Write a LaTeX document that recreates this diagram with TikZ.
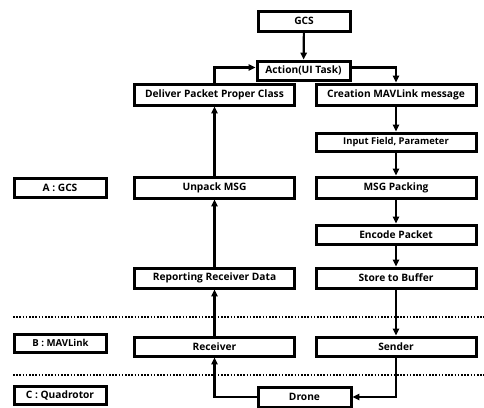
\documentclass[tikz,border=0pt]{standalone}
\usepackage{fontspec}
\setmainfont{Open Sans}
\usepackage{tikz}
\usetikzlibrary{arrows.meta,positioning}
\tikzset{
  bx/.style={draw=black,line width=3pt,inner sep=0pt,minimum height=19pt,font=\bfseries\fontsize{10.2}{12}\selectfont},
  wide/.style={bx,minimum width=160pt},
  tag/.style={bx,minimum width=92pt},
  ar/.style={-{Triangle[length=2.4mm,width=2.2mm]},line width=2.2pt},
  sep/.style={line width=2.4pt,dash pattern=on 1.6pt off 1.6pt}
}

\begin{document}
\begin{tikzpicture}[x=1pt,y=-1pt]
\useasboundingbox (0,0) rectangle (484,407);
% top
\node[bx,minimum width=92pt,minimum height=20pt] (gcs) at (304,21) {GCS};
\node[bx,minimum width=93pt] (act) at (303.5,70.5) {Action(UI Task)};
% left column
\node[wide,minimum height=21pt] (dlv) at (214.5,94.5) {Deliver Packet Proper Class};
\node[wide,minimum height=21pt] (unp) at (214.5,187.5) {Unpack MSG};
\node[wide,minimum height=20pt] (rep) at (214.5,278) {Reporting Receiver Data};
\node[wide] (rcv) at (214.5,346.5) {Receiver};
% right column
\node[wide,minimum height=21pt] (crt) at (396,94.5) {Creation MAVLink message};
\node[wide,minimum height=18pt,font=\bfseries\fontsize{9.4}{11}\selectfont] (inp) at (396,142) {Input Field, Parameter};
\node[wide,minimum height=21pt] (pck) at (396,187.5) {MSG Packing};
\node[wide] (enc) at (396,234.5) {Encode Packet};
\node[wide,minimum height=20pt] (sto) at (396,278) {Store to Buffer};
\node[wide] (snd) at (396,346.5) {Sender};
% bottom
\node[bx,minimum width=93pt,minimum height=20pt] (drn) at (304.5,397) {Drone};
% layer tags
\node[tag] (lgcs) at (60,187.5) {A : GCS};
\node[tag,minimum height=18pt,font=\bfseries\fontsize{9.6}{11}\selectfont] (lmav) at (60.5,343) {B : MAVLink};
\node[tag,minimum height=18pt] (lqr) at (60,395) {C : Quadrotor};
% layer borders
\coordinate (s1a) at (13,317); \coordinate (s1b) at (484,317);
\coordinate (s2a) at (13,375); \coordinate (s2b) at (484,375);
\draw[sep] (s1a) -- (s1b);
\draw[sep] (s2a) -- (s2b);
% flow
\draw[ar] (gcs) -- (act);
\draw[ar] ([yshift=3pt]act.east) -| (crt.north);
\draw[ar] (dlv.north) |- ([yshift=3pt]act.west);
\foreach \a/\b in {crt/inp,inp/pck,pck/enc,enc/sto,sto/snd}
  \draw[ar] (\a) -- (\b);
\foreach \a/\b in {rcv/rep,rep/unp,unp/dlv}
  \draw[ar] (\a) -- (\b);
\draw[ar] (snd.south) |- (drn.east);
\draw[ar] (drn.west) -| (rcv.south);
\end{tikzpicture}
\end{document}
